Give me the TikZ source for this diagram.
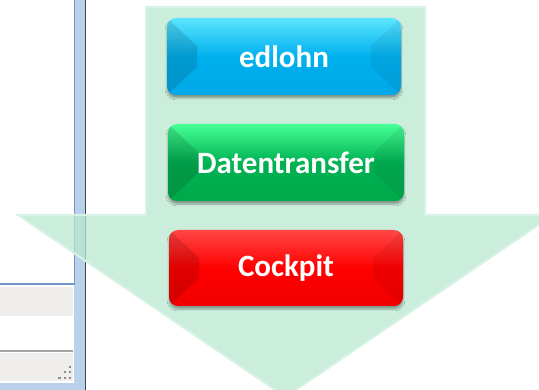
\documentclass[tikz,border=0pt]{standalone}
\usepackage{fontspec}
\setmainfont{Carlito}
\usetikzlibrary{shadows.blur}

\definecolor{pfeilgruen}{HTML}{BAE8CF}
\definecolor{pfeilrand}{HTML}{D8F3E5}
\definecolor{fensterblau}{HTML}{B9D1EA}
\definecolor{fensterlinie}{HTML}{7496CC}
\definecolor{fenstergrau}{HTML}{F0EDED}

\tikzset{
	knopf/.style={
		rounded corners=9pt, minimum width=234pt, minimum height=77pt,
		inner sep=0pt, text=white,
		font=\bfseries\fontsize{31}{37}\selectfont,
		blur shadow={shadow xshift=0pt, shadow yshift=-3pt, shadow opacity=35, shadow blur steps=6},
		path picture={
			\fill [black, opacity=0.12, sharp corners]
				(path picture bounding box.north west) -- ++(30pt,-28pt)
				-- ([xshift=30pt,yshift=28pt]path picture bounding box.south west)
				-- (path picture bounding box.south west) -- cycle;
			\fill [black, opacity=0.06, sharp corners]
				(path picture bounding box.north east) -- ++(-30pt,-28pt)
				-- ([xshift=-30pt,yshift=28pt]path picture bounding box.south east)
				-- (path picture bounding box.south east) -- cycle;
		}
	},
	knopfblau/.style={knopf, top color=cyan!60!white!90!blue, bottom color={rgb,255:red,0;green,168;blue,232}, middle color={rgb,255:red,0;green,176;blue,238}},
	knopfgruen/.style={knopf, top color={rgb,255:red,70;green,255;blue,150}, bottom color={rgb,255:red,0;green,168;blue,75}, middle color={rgb,255:red,0;green,178;blue,82}},
	knopfrot/.style={knopf, top color={rgb,255:red,255;green,70;blue,70}, bottom color={rgb,255:red,240;green,0;blue,0}, middle color={rgb,255:red,255;green,0;blue,0}}
}

\begin{document}
\begin{tikzpicture}[x=1pt,y=-1pt]
	\useasboundingbox
		[fill=white] (0,0) rectangle (539,390);

	% Fenster links
	\fill
		[fensterblau] (74,0) rectangle (86,390);
	\fill
		[fensterblau] (0,383) rectangle (86,390);
	\draw
		[fensterlinie, line width=1.2pt] (74.5,0) -- (74.5,284) -- (0,284);
	\draw
		[black!80!cyan, line width=1.2pt] (85.8,0) -- (85.8,390);
	\fill
		[fenstergrau, draw=white, line width=1pt] (-1,287) rectangle (73,317);
	\draw
		[black!35, line width=2pt] (0,351.5) -- (73,351.5);
	\fill
		[fenstergrau, draw=white, line width=1pt] (-1,353) rectangle (73,382);
	\foreach \x/\y in {70/367, 65/372, 70/372, 59.5/378, 65/378, 70/378}
		\fill
			[black!45] (\x-1.2,\y-1.2) rectangle (\x+1.2,\y+1.2);

	% Pfeil nach unten
	\filldraw
		[fill=pfeilgruen, fill opacity=0.75, draw=pfeilrand, line width=2pt, line join=miter]
		(146,7) -- (425,7) -- (425,215) -- (553,215) -- (285.5,397)
		-- (18,215) -- (146,215) -- cycle;

	% Knoepfe
	\node
		[knopfblau] (edlohn) at (284,56.5) {edlohn};
	\node
		[knopfgruen, minimum width=236pt] (transfer) at (286,162.5) {Datentransfer};
	\node
		[knopfrot, minimum height=76pt] (cockpit) at (286,268) {Cockpit};
\end{tikzpicture}
\end{document}
